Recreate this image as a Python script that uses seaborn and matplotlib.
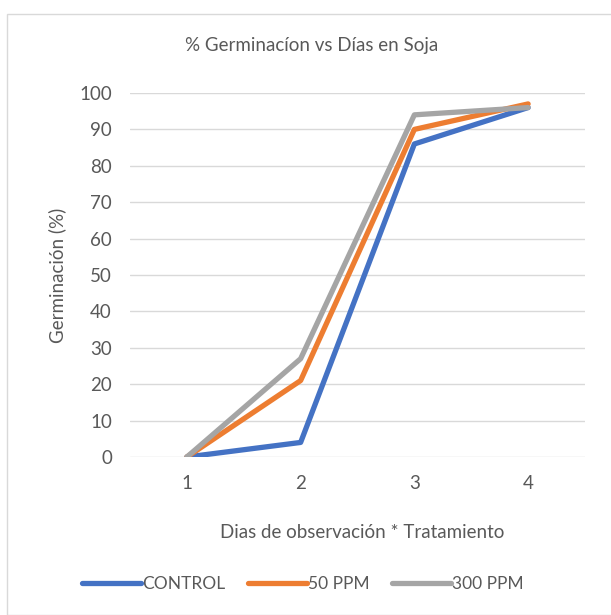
import matplotlib
matplotlib.use("Agg")
import matplotlib.pyplot as plt
import seaborn as sns
import pandas as pd
from matplotlib.patches import Rectangle
from matplotlib.lines import Line2D

days = [1, 2, 3, 4]
control = [0, 4, 86, 96]
ppm50 = [0, 21, 90, 97]
ppm300 = [0, 27, 94, 96]
series_names = ["CONTROL", "50 PPM", "300 PPM"]
colors = ["#4472C4", "#ED7D31", "#A5A5A5"]

rows = []
for name, vals in zip(series_names, [control, ppm50, ppm300]):
    for d, v in zip(days, vals):
        rows.append({"Dia": d, "Germ": v, "Serie": name})
df = pd.DataFrame(rows)

sns.set_theme(style="white")
plt.rcParams["font.family"] = ["Lato", "DejaVu Sans"]
txt = "#595959"
W, H = 611, 615

fig = plt.figure(figsize=(6.11, 6.15), dpi=100)
fig.patches.append(Rectangle((7 / W, 0), 1, 1 - 14 / H, transform=fig.transFigure,
                             fill=False, edgecolor="#D9D9D9", linewidth=1.0))
ax = fig.add_axes([130 / W, (H - 457) / H, 455 / W, 364 / H])

sns.lineplot(data=df, x="Dia", y="Germ", hue="Serie", hue_order=series_names,
             palette=colors, linewidth=3.8, ax=ax, legend=False)

ax.set_xlim(0.5, 4.5)
ax.set_ylim(0, 100)
ax.set_xticks(days)
ax.set_yticks(range(0, 101, 10))
ax.tick_params(axis="both", length=0, labelsize=13.5, labelcolor=txt)
ax.tick_params(axis="y", pad=13)
ax.tick_params(axis="x", pad=13)
ax.grid(axis="y", color="#D9D9D9", linewidth=1)
for s in ax.spines.values():
    s.set_visible(False)
ax.set_axisbelow(True)
ax.set_xlabel("")
ax.set_ylabel("")

fig.text(362 / W, 1 - 532 / H, "Dias de observación * Tratamiento", ha="center",
         va="center", fontsize=13.5, color=txt)
fig.text(57 / W, 1 - 275 / H, "Germinación (%)", ha="center", va="center",
         rotation=90, fontsize=13.5, color=txt)
fig.text(312 / W, 1 - 46 / H, "% Germinacíon vs Días en Soja", ha="center",
         va="center", fontsize=13.5, color=txt)

handles = [Line2D([], [], color=c, linewidth=3.8) for c in colors]
fig.legend(handles, series_names, loc="center", bbox_to_anchor=(303 / W, 1 - 584 / H),
           ncol=3, frameon=False, fontsize=12.5, labelcolor=txt, handlelength=3.4,
           handletextpad=0.05, columnspacing=1.3)

fig.savefig("out.png", dpi=100)
